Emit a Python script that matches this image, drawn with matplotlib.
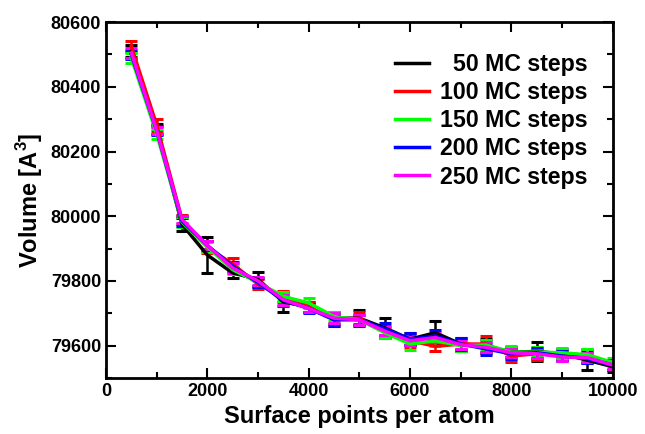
import numpy as np
import matplotlib
matplotlib.use('Agg')
import matplotlib.pyplot as plt
import matplotlib.lines as mlines
from matplotlib.ticker import MultipleLocator

# surface points per atom
points = [500, 1000, 1500, 2000, 2500, 3000, 3500, 4000, 4500, 5000,
          5500, 6000, 6500, 7000, 7500, 8000, 8500, 9000, 9500, 10000]

labels = ['\u200750 MC steps', '100 MC steps', '150 MC steps',
          '200 MC steps', '250 MC steps']
colors = ['#000000', '#ff0000', '#00ff00', '#0000ff', '#ff00ff']

vol_50 = [80510, 80270, 79975, 79880, 79825, 79805, 79735, 79720, 79685, 79685,
          79655, 79620, 79640, 79605, 79600, 79580, 79582, 79575, 79555, 79535]
vol_100 = [80525, 80282, 79990, 79905, 79852, 79790, 79752, 79720, 79680, 79685,
           79645, 79615, 79598, 79605, 79605, 79568, 79575, 79570, 79568, 79540]
vol_150 = [80490, 80255, 79982, 79905, 79835, 79795, 79752, 79732, 79690, 79680,
           79640, 79605, 79615, 79600, 79602, 79580, 79580, 79578, 79572, 79548]
vol_200 = [80500, 80265, 79985, 79910, 79845, 79795, 79740, 79715, 79680, 79680,
           79652, 79620, 79630, 79605, 79590, 79575, 79578, 79568, 79560, 79540]
vol_250 = [80505, 80265, 79990, 79910, 79840, 79800, 79742, 79715, 79685, 79680,
           79645, 79615, 79625, 79603, 79595, 79578, 79575, 79565, 79563, 79540]

err_50 = [18, 15, 20, 55, 15, 22, 32, 15, 18, 25, 32, 18, 35, 20, 22, 15, 30, 15, 30, 15]
err_100 = [18, 18, 15, 18, 20, 15, 18, 15, 18, 18, 15, 18, 15, 15, 25, 18, 18, 15, 22, 15]
err_150 = [15, 15, 15, 15, 15, 15, 15, 15, 15, 15, 15, 18, 15, 15, 15, 20, 15, 15, 18, 15]
err_200 = [15, 15, 15, 15, 15, 15, 18, 15, 18, 15, 18, 18, 18, 18, 18, 15, 15, 15, 15, 15]
err_250 = [15, 12, 12, 12, 15, 12, 15, 12, 15, 15, 12, 12, 15, 12, 15, 12, 12, 12, 15, 12]

series = [vol_50, vol_100, vol_150, vol_200, vol_250]
errors = [err_50, err_100, err_150, err_200, err_250]

plt.rcParams['font.family'] = ['Liberation Sans', 'DejaVu Sans']
plt.rcParams['font.weight'] = 'bold'
plt.rcParams['mathtext.fontset'] = 'custom'
plt.rcParams['mathtext.bf'] = 'Liberation Sans:bold'
plt.rcParams['mathtext.rm'] = 'Liberation Sans:bold'

fig = plt.figure(figsize=(6.45, 4.34), dpi=100)
ax = fig.add_axes([0.1643, 0.129, 0.7857, 0.820])

for y, e, c, lab in zip(series, errors, colors, labels):
  ax.errorbar(points, y, yerr=e, color=c, lw=2.5, elinewidth=1.8,
              capsize=4, capthick=2.2, label=lab)

ax.set_xlim(0, 10000)
ax.set_ylim(79500, 80600)
ax.xaxis.set_major_locator(MultipleLocator(2000))
ax.xaxis.set_minor_locator(MultipleLocator(1000))
ax.yaxis.set_major_locator(MultipleLocator(200))
ax.yaxis.set_minor_locator(MultipleLocator(100))
ax.tick_params(which='both', direction='in', top=True, right=True,
               width=1.5, labelsize=13)
ax.tick_params(which='major', length=7)
ax.tick_params(which='minor', length=4)
for s in ax.spines.values():
  s.set_linewidth(2)

ax.set_xlabel('Surface points per atom', fontsize=17, fontweight='bold')
ax.set_ylabel('Volume [A$^{3}$]', fontsize=17, fontweight='bold')

handles = [mlines.Line2D([], [], color=c, lw=2.5) for c in colors]
leg = ax.legend(handles, labels, loc='upper right', frameon=False,
                prop={'size': 16.7, 'weight': 'bold'}, handlelength=1.5,
                labelspacing=0.22, handletextpad=0.47,
                borderpad=0, borderaxespad=0,
                bbox_to_anchor=(0.951, 0.913))

fig.savefig('out.png', dpi=100)
